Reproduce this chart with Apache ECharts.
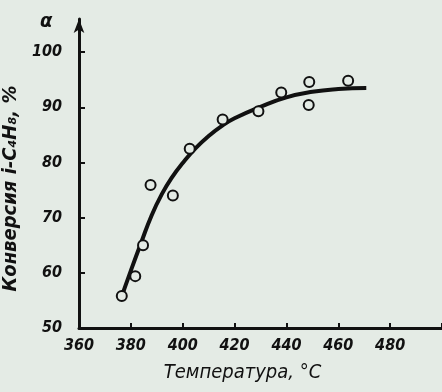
<!DOCTYPE html>
<html>
<head>
<meta charset="utf-8">
<script src="https://cdn.jsdelivr.net/npm/echarts@6/dist/echarts.min.js"></script>
<style>
  html, body { margin: 0; padding: 0; background: #e4ebe5; }
  #chart { width: 442px; height: 392px; }
</style>
</head>
<body>
<div id="chart"></div>
<script>
// measured points (temperature, conversion)
var pointTemps = [376.5, 381.7, 384.7, 387.6, 396.2, 402.7, 415.4, 429.2, 438, 448.8, 448.6, 463.8];
var pointConv  = [55.8, 59.4, 65.0, 75.9, 74.0, 82.5, 87.8, 89.3, 92.7, 94.6, 90.4, 94.8];

// fitted curve
var curveTemps = [376, 380, 384, 388, 392, 396, 400, 405, 410, 415, 420, 430, 440, 450, 460, 470.8];
var curveConv  = [55.1, 60.4, 65.5, 70.4, 74.3, 77.4, 79.9, 82.6, 84.8, 86.6, 88.0, 90.1, 91.8, 92.8, 93.3, 93.5];

var xTicks = [360, 380, 400, 420, 440, 460, 480];
var yTicks = [50, 60, 70, 80, 90, 100];

var font = 'DejaVu Sans Condensed';
var chart = echarts.init(document.getElementById('chart'));

function pairs(xs, ys) {
  var out = [];
  for (var i = 0; i < xs.length; i++) out.push([xs[i], ys[i]]);
  return out;
}

var labelStyle = {
  color: '#111',
  fontFamily: font,
  fontStyle: 'italic',
  fontWeight: 'bold',
  fontSize: 16
};

var option = {
  backgroundColor: '#e4ebe5',
  animation: false,
  grid: { left: 79, right: 0, top: 19, bottom: 64, containLabel: false, outerBoundsMode: 'none' },
  xAxis: {
    type: 'value',
    min: 360,
    max: 500,
    interval: 20,
    splitLine: { show: false },
    axisLine: { lineStyle: { color: '#111', width: 3 } },
    axisTick: { inside: true, length: 5, lineStyle: { color: '#111', width: 2 } },
    axisLabel: Object.assign({}, labelStyle, {
      margin: 10,
      formatter: function (v) { return xTicks.indexOf(v) >= 0 ? v : ''; }
    }),
    name: 'Температура, °C',
    nameLocation: 'middle',
    nameGap: 35,
    nameTextStyle: Object.assign({}, labelStyle, { fontSize: 20, fontWeight: 'normal', padding: [0, 36, 0, 0] })
  },
  yAxis: {
    type: 'value',
    min: 50,
    max: 106,
    interval: 10,
    splitLine: { show: false },
    axisLine: {
      lineStyle: { color: '#111', width: 3 },
      symbol: ['none', 'arrow'],
      symbolSize: [8, 14]
    },
    axisTick: { inside: true, length: 6, lineStyle: { color: '#111', width: 2 } },
    axisLabel: Object.assign({}, labelStyle, {
      margin: 17,
      showMaxLabel: false,
      formatter: function (v) { return yTicks.indexOf(v) >= 0 ? v : ''; }
    }),
    name: 'Конверсия i-C₄H₈, %',
    nameLocation: 'middle',
    nameGap: 54,
    nameRotate: 90,
    nameTextStyle: Object.assign({}, labelStyle, { fontSize: 20, padding: [0, 30, 0, 0] })
  },
  graphic: [{
    type: 'text',
    left: 40,
    top: 12,
    style: { text: 'α', font: 'italic bold 20px ' + font, fill: '#111' }
  }],
  series: [
    {
      type: 'line',
      data: pairs(curveTemps, curveConv),
      smooth: true,
      showSymbol: false,
      lineStyle: { color: '#111', width: 4 },
      z: 2
    },
    {
      type: 'scatter',
      data: pairs(pointTemps, pointConv),
      symbol: 'circle',
      symbolSize: 10,
      itemStyle: { color: '#e4ebe5', borderColor: '#111', borderWidth: 2, opacity: 1 },
      z: 3
    }
  ]
};

chart.setOption(option);
</script>
</body>
</html>
